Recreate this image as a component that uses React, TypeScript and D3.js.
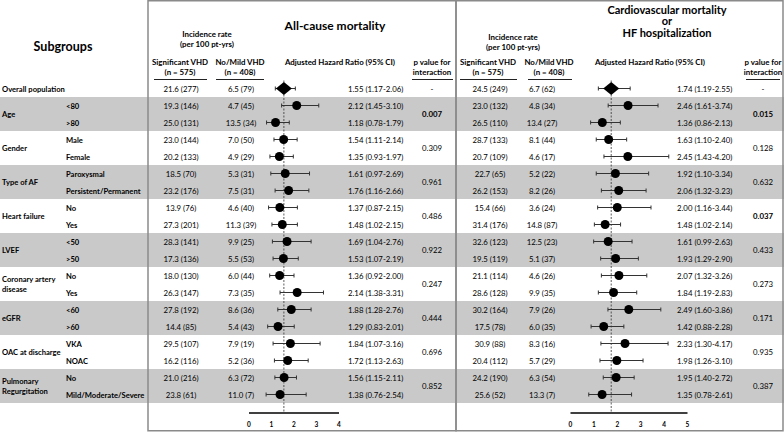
import * as d3 from 'd3';
import { useEffect, useRef } from 'react';

const W = 784;
const H = 432;

// subgroup structure
const groups = ['Age', 'Gender', 'Type of AF', 'Heart failure', 'LVEF', 'Coronary artery\ndisease', 'eGFR', 'OAC at discharge', 'Pulmonary\nRegurgitation'];
const subgroups = [
    '<80', '>80', 'Male', 'Female', 'Paroxysmal', 'Persistent/Permanent', 'No', 'Yes', '<50', '>50',
    'No', 'Yes', '<60', '>60', 'VKA', 'NOAC', 'No', 'Mild/Moderate/Severe',
];

// All-cause mortality
const acmSig = ['21.6 (277)', '19.3 (146)', '25.0 (131)', '23.0 (144)', '20.2 (133)', '18.5 (70)', '23.2 (176)', '13.9 (76)', '27.3 (201)', '28.3 (141)', '17.3 (136)', '18.0 (130)', '26.3 (147)', '27.8 (192)', '14.4 (85)', '29.5 (107)', '16.2 (116)', '21.0 (216)', '23.8 (61)'];
const acmMild = ['6.5 (79)', '4.7 (45)', '13.5 (34)', '7.0 (50)', '4.9 (29)', '5.3 (31)', '7.5 (31)', '4.6 (40)', '11.3 (39)', '9.9 (25)', '5.5 (53)', '6.0 (44)', '7.3 (35)', '8.6 (36)', '5.4 (43)', '7.9 (19)', '5.2 (36)', '6.3 (72)', '11.0 (7)'];
const acmHR = [1.55, 2.12, 1.18, 1.54, 1.35, 1.61, 1.76, 1.37, 1.48, 1.69, 1.53, 1.36, 2.14, 1.88, 1.29, 1.84, 1.72, 1.56, 1.38];
const acmLo = [1.17, 1.45, 0.78, 1.11, 0.93, 0.97, 1.16, 0.87, 1.02, 1.04, 1.07, 0.92, 1.38, 1.28, 0.83, 1.07, 1.13, 1.15, 0.76];
const acmHi = [2.06, 3.10, 1.79, 2.14, 1.97, 2.69, 2.66, 2.15, 2.15, 2.76, 2.19, 2.00, 3.31, 2.76, 2.01, 3.16, 2.63, 2.11, 2.54];
const acmP = ['0.007', '0.309', '0.961', '0.486', '0.922', '0.247', '0.444', '0.696', '0.852'];

// Cardiovascular mortality or HF hospitalization
const cvSig = ['24.5 (249)', '23.0 (132)', '26.5 (110)', '28.7 (133)', '20.7 (109)', '22.7 (65)', '26.2 (153)', '15.4 (66)', '31.4 (176)', '32.6 (123)', '19.5 (119)', '21.1 (114)', '28.6 (128)', '30.2 (164)', '17.5 (78)', '30.9 (88)', '20.4 (112)', '24.2 (190)', '25.6 (52)'];
const cvMild = ['6.7 (62)', '4.8 (34)', '13.4 (27)', '8.1 (44)', '4.6 (17)', '5.2 (22)', '8.2 (26)', '3.6 (24)', '14.8 (87)', '12.5 (23)', '5.1 (37)', '4.6 (26)', '9.9 (35)', '7.9 (26)', '6.0 (35)', '8.3 (16)', '5.7 (29)', '6.3 (54)', '13.3 (7)'];
const cvHR = [1.74, 2.46, 1.36, 1.63, 2.45, 1.92, 2.06, 2.00, 1.48, 1.61, 1.93, 2.07, 1.84, 2.49, 1.42, 2.33, 1.98, 1.95, 1.35];
const cvLo = [1.19, 1.61, 0.86, 1.10, 1.43, 1.10, 1.32, 1.16, 1.02, 0.99, 1.29, 1.32, 1.19, 1.60, 0.88, 1.30, 1.26, 1.40, 0.78];
const cvHi = [2.55, 3.74, 2.13, 2.40, 4.20, 3.34, 3.23, 3.44, 2.14, 2.63, 2.90, 3.26, 2.83, 3.86, 2.28, 4.17, 3.10, 2.72, 2.61];
const cvP = ['0.015', '0.128', '0.632', '0.037', '0.433', '0.273', '0.171', '0.935', '0.387'];
const boldP = ['0.007', '0.015', '0.037'];

const acmTicks = [0, 1, 2, 3, 4];
const cvTicks = [0, 1, 2, 3, 4, 5];

const FONT = 'Lato, "Open Sans", sans-serif';
const GRAY = '#c9c9c9';

export default function App() {
    const ref = useRef(null);

    useEffect(() => {
        const el = ref.current;
        if (!el || el.hasChildNodes()) return;

        const svg = d3.select(el).append('svg')
            .attr('width', W).attr('height', H)
            .style('font-family', FONT)
            .style('display', 'block');

        // row index -1 = overall, 0..17 subgroups
        const rowY = d3.scaleLinear().domain([-1, 0]).range([88.5, 105.5]);
        const rowH = 17;

        // background bands
        groups.forEach((g, i) => {
            if (i % 2 === 0) {
                svg.append('rect')
                    .attr('x', 0).attr('y', rowY(i * 2) - rowH / 2)
                    .attr('width', W).attr('height', rowH * 2)
                    .attr('fill', GRAY);
            }
        });

        const txt = (x, y, s, size, bold, anchor = 'middle') =>
            svg.append('text')
                .attr('x', x).attr('y', y)
                .attr('text-anchor', anchor)
                .attr('dominant-baseline', 'central')
                .attr('font-size', size)
                .attr('font-weight', bold ? 700 : 400)
                .attr('fill', '#000')
                .text(s);

        // left labels
        txt(63, 46, 'Subgroups', 12.5, true);
        txt(2, rowY(-1), 'Overall population', 7.6, true, 'start');
        groups.forEach((g, i) => {
            const cy = (rowY(i * 2) + rowY(i * 2 + 1)) / 2;
            const lines = g.split('\n');
            lines.forEach((l, j) => {
                txt(2, cy + (j - (lines.length - 1) / 2) * 10, l, 7.6, true, 'start');
            });
        });
        subgroups.forEach((s, i) => txt(66, rowY(i), s, 7.6, true, 'start'));

        const panels = [
            {
                sigX: 181, mildX: 241, hrTextX: 348, pX: 432,
                sig: acmSig, mild: acmMild, hr: acmHR, lo: acmLo, hi: acmHi, p: acmP,
                x: d3.scaleLinear().domain([0, 4]).range([249, 339]), ticks: acmTicks,
            },
            {
                sigX: 490, mildX: 542, hrTextX: 677, pX: 763,
                sig: cvSig, mild: cvMild, hr: cvHR, lo: cvLo, hi: cvHi, p: cvP,
                x: d3.scaleLinear().domain([0, 5]).range([570.5, 687.5]), ticks: cvTicks,
            },
        ];

        const HS = 7.9;
        // headers
        txt(335, 25, 'All-cause mortality', 12, true);
        txt(207, 34, 'Incidence rate', HS, true);
        txt(207, 43.5, '(per 100 pt-yrs)', HS, true);
        txt(180, 62, 'Significant VHD', HS, true);
        txt(180, 71.5, '(n = 575)', HS, true);
        txt(240, 62, 'No/Mild VHD', HS, true);
        txt(240, 71.5, '(n = 408)', HS, true);
        txt(340, 62, 'Adjusted Hazard Ratio (95% CI)', HS, true);
        txt(432, 62, 'p value for', HS, true);
        txt(432, 71.5, 'interaction', HS, true);

        txt(667, 9, 'Cardiovascular mortality', 11, true);
        txt(667, 20.5, 'or', 11, true);
        txt(667, 32, 'HF hospitalization', 11, true);
        txt(513, 37, 'Incidence rate', HS, true);
        txt(513, 46.5, '(per 100 pt-yrs)', HS, true);
        txt(488, 62, 'Significant VHD', HS, true);
        txt(488, 71.5, '(n = 575)', HS, true);
        txt(549, 62, 'No/Mild VHD', HS, true);
        txt(549, 71.5, '(n = 408)', HS, true);
        txt(650, 62, 'Adjusted Hazard Ratio (95% CI)', HS, true);
        txt(763, 62, 'p value for', HS, true);
        txt(763, 71.5, 'interaction', HS, true);

        // header underlines
        [[154, 207], [216, 264], [412, 453], [460, 517], [528, 572], [746, 780]].forEach(([a, b]) => {
            svg.append('line')
                .attr('x1', a).attr('x2', b).attr('y1', 79.5).attr('y2', 79.5)
                .attr('stroke', '#222').attr('stroke-width', 1);
        });

        const axisY = 413;
        const VS = 7.8;

        panels.forEach((pn) => {
            // table values
            pn.sig.forEach((v, i) => txt(pn.sigX, rowY(i - 1), v, VS, false));
            pn.mild.forEach((v, i) => txt(pn.mildX, rowY(i - 1), v, VS, false));
            pn.hr.forEach((v, i) => {
                const s = `${v.toFixed(2)} (${pn.lo[i].toFixed(2)}-${pn.hi[i].toFixed(2)})`;
                txt(pn.hrTextX, rowY(i - 1), s, VS, false, 'start');
            });
            txt(pn.pX, rowY(-1), '-', VS, false);
            pn.p.forEach((v, i) => {
                const cy = (rowY(i * 2) + rowY(i * 2 + 1)) / 2;
                txt(pn.pX, cy, v, VS, boldP.includes(v));
            });

            // reference line at overall HR
            const refX = pn.x(pn.hr[0]);
            svg.append('line')
                .attr('x1', refX).attr('x2', refX)
                .attr('y1', rowY(-1) - 8).attr('y2', axisY)
                .attr('stroke', '#333').attr('stroke-width', 0.8)
                .attr('stroke-dasharray', '2,1.5');

            // CIs
            pn.hr.forEach((v, i) => {
                const y = rowY(i - 1);
                const g = svg.append('g');
                g.append('line')
                    .attr('x1', pn.x(pn.lo[i])).attr('x2', pn.x(pn.hi[i]))
                    .attr('y1', y).attr('y2', y)
                    .attr('stroke', '#333').attr('stroke-width', 1);
                [pn.lo[i], pn.hi[i]].forEach((c) => {
                    g.append('line')
                        .attr('x1', pn.x(c)).attr('x2', pn.x(c))
                        .attr('y1', y - 2).attr('y2', y + 2)
                        .attr('stroke', '#333').attr('stroke-width', 1);
                });
                if (i === 0) {
                    const cx = pn.x(v);
                    g.append('path')
                        .attr('d', `M${cx - 8},${y}L${cx},${y - 6.5}L${cx + 8},${y}L${cx},${y + 6.5}Z`)
                        .attr('fill', '#000');
                } else {
                    g.append('circle')
                        .attr('cx', pn.x(v)).attr('cy', y).attr('r', 4.5)
                        .attr('fill', '#000');
                }
            });

            // axis
            const [r0, r1] = pn.x.range();
            svg.append('line')
                .attr('x1', r0).attr('x2', r1).attr('y1', axisY).attr('y2', axisY)
                .attr('stroke', '#000').attr('stroke-width', 1.5);
            pn.ticks.forEach((t) => txt(pn.x(t), 424, String(t), 6.5, true));
        });

        // panel borders
        svg.append('rect')
            .attr('x', 148).attr('y', 0.75).attr('width', 308).attr('height', 430)
            .attr('fill', 'none').attr('stroke', '#8a8a8a').attr('stroke-width', 1.5);
        svg.append('rect')
            .attr('x', 456).attr('y', 0.75).attr('width', 327).attr('height', 430)
            .attr('fill', 'none').attr('stroke', '#8a8a8a').attr('stroke-width', 1.5);
    }, []);

    return <div ref={ref} style={{ position: 'absolute', left: 0, top: 0, width: W, height: H, background: '#fff' }}></div>;
}
